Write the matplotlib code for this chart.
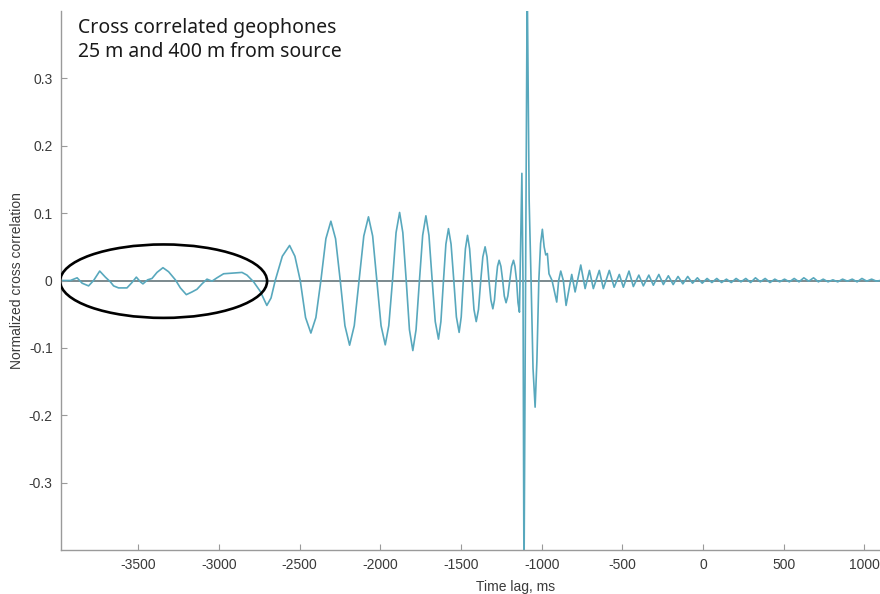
import matplotlib
matplotlib.use("Agg")
import matplotlib.pyplot as plt
from matplotlib.patches import Ellipse

# ---- data ----
# time lag (ms) and normalized cross correlation
noise_t = [-3984, -3922, -3880, -3849, -3809, -3778, -3740, -3705, -3674, -3654,
           -3623, -3571, -3540, -3513, -3488, -3472, -3443, -3416, -3385, -3348,
           -3313, -3271, -3240, -3203, -3168, -3137, -3106, -3075, -3044, -3013,
           -2972, -2910, -2858, -2827, -2786, -2745]
noise_v = [0.000, 0.000, 0.004, -0.004, -0.008, 0.000, 0.014, 0.005, -0.002, -0.008,
           -0.011, -0.011, -0.003, 0.005, -0.002, -0.005, 0.001, 0.003, 0.012, 0.019,
           0.013, 0.001, -0.011, -0.021, -0.017, -0.013, -0.005, 0.002, -0.001, 0.004,
           0.010, 0.011, 0.012, 0.008, -0.002, -0.016]

packet_t = [-2704, -2678, -2652, -2608, -2563, -2530, -2497, -2464, -2431, -2400,
            -2369, -2338, -2307, -2278, -2249, -2220, -2191, -2162, -2132, -2103,
            -2074, -2048, -2022, -1996, -1970, -1948, -1925, -1903, -1881, -1861,
            -1840, -1820, -1799, -1779, -1758, -1738, -1718, -1699, -1679, -1660,
            -1640, -1625, -1609, -1594, -1578, -1562, -1545, -1529, -1512, -1499,
            -1486, -1473, -1460, -1447, -1433, -1420, -1406, -1392, -1378, -1365,
            -1351, -1339, -1327, -1315, -1303, -1293, -1283, -1274, -1264, -1253,
            -1242, -1232, -1221, -1210, -1198, -1187, -1175, -1166, -1156, -1147,
            -1138]
packet_v = [-0.037, -0.026, 0.000, 0.036, 0.052, 0.036, 0.000, -0.055, -0.078, -0.055,
            0.000, 0.062, 0.088, 0.062, 0.000, -0.067, -0.096, -0.067, 0.000, 0.066,
            0.0945, 0.066, 0.000, -0.067, -0.0955, -0.067, 0.000, 0.071, 0.101, 0.071,
            0.000, -0.073, -0.104, -0.073, 0.000, 0.067, 0.096, 0.067, 0.000, -0.061,
            -0.087, -0.061, 0.000, 0.054, 0.077, 0.054, 0.000, -0.054, -0.077, -0.054,
            0.000, 0.047, 0.067, 0.047, 0.000, -0.043, -0.061, -0.043, 0.000, 0.035,
            0.050, 0.035, 0.000, -0.029, -0.042, -0.029, 0.000, 0.021, 0.030, 0.021,
            0.000, -0.023, -0.033, -0.023, 0.000, 0.021, 0.030, 0.021, 0.000, -0.033,
            -0.047]

spike_t = [-1123, -1116, -1110, -1100, -1090, -1078, -1066, -1054, -1041, -1030,
           -1018, -1007, -996, -985, -975, -965, -955, -936, -907, -895,
           -882, -866, -849]
spike_v = [0.159, 0.000, -0.45, 0.000, 0.45, 0.120, 0.000, -0.130, -0.188, -0.120,
           0.000, 0.055, 0.076, 0.050, 0.038, 0.040, 0.010, 0.000, -0.032, 0.000,
           0.014, 0.000, -0.037]

tail_t = [-814, -793, -758, -731, -704, -680, -643, -618, -581, -551,
          -519, -494, -459, -432, -398, -370, -336, -308, -274, -246,
          -215, -185, -155, -125, -95, -65, -35, -5, 25, 55,
          85, 115, 145, 175, 205, 235, 265, 295, 325, 355,
          385, 415, 445, 475, 505, 535, 565, 595, 625, 655,
          685, 715, 745, 775, 805, 835, 865, 895, 925, 955,
          985, 1015, 1045, 1075, 1097]
tail_v = [0.009, -0.017, 0.023, -0.012, 0.015, -0.012, 0.015, -0.012, 0.015, -0.010,
          0.009, -0.010, 0.014, -0.009, 0.008, -0.008, 0.008, -0.007, 0.009, -0.006,
          0.007, -0.006, 0.006, -0.005, 0.006, -0.004, 0.004, -0.004, 0.003, -0.003,
          0.003, -0.003, 0.002, -0.003, 0.003, -0.002, 0.003, -0.003, 0.004, -0.002,
          0.003, -0.003, 0.002, -0.002, 0.002, -0.002, 0.003, -0.002, 0.004, -0.001,
          0.004, -0.002, 0.002, -0.002, 0.001, -0.002, 0.002, -0.001, 0.002, -0.002,
          0.003, -0.001, 0.002, -0.001, 0.000]

x_ticks = [-3500, -3000, -2500, -2000, -1500, -1000, -500, 0, 500, 1000]
y_ticks = [-0.3, -0.2, -0.1, 0.0, 0.1, 0.2, 0.3]
y_ticklabels = ["-0.3", "-0.2", "-0.1", "0", "0.1", "0.2", "0.3"]

title_text = "Cross correlated geophones\n25 m and 400 m from source"
x_label = "Time lag, ms"
y_label = "Normalized cross correlation"

t_all = noise_t + packet_t + spike_t + tail_t
v_all = noise_v + packet_v + spike_v + tail_v

# ---- figure ----
W, H = 880, 594
fig = plt.figure(figsize=(W / 100, H / 100), dpi=100)
ax_left, ax_right, ax_top, ax_bottom = 61, 880, 11, 550
ax = fig.add_axes([ax_left / W, 1 - ax_bottom / H, (ax_right - ax_left) / W,
                   (ax_bottom - ax_top) / H])

font = "Liberation Sans"
tick_col = "#3a3a3a"
spine_col = "#9a9a9a"

ax.axhline(0, color="#65767a", lw=1.2, zorder=1)
ax.plot(t_all, v_all, color="#58a8bd", lw=1.2, zorder=2, solid_joinstyle="round")

ell = Ellipse((-3344, -0.001), 1283, 0.109, fill=False, edgecolor="black",
              lw=1.9, zorder=3)
ax.add_patch(ell)

ax.set_xlim(-3980, 1097)
ax.set_ylim(-0.4, 0.4)
ax.set_xticks(x_ticks)
ax.set_xticklabels([str(v) for v in x_ticks])
ax.set_yticks(y_ticks)
ax.set_yticklabels(y_ticklabels)

for s in ["top", "right"]:
    ax.spines[s].set_visible(False)
for s in ["left", "bottom"]:
    ax.spines[s].set_color(spine_col)
    ax.spines[s].set_linewidth(1.0)

ax.tick_params(direction="in", length=4, width=0.8, color=spine_col,
               labelcolor=tick_col, labelsize=10, pad=6)
for lab in ax.get_xticklabels() + ax.get_yticklabels():
    lab.set_family(font)

ax.set_xlabel(x_label, fontsize=10, family=font, color=tick_col)
ax.xaxis.set_label_coords((516 - ax_left) / (ax_right - ax_left), -0.055)
ax.set_ylabel(y_label, fontsize=10, family=font, color=tick_col)
ax.yaxis.set_label_coords(-0.045, 0.5)

ax.text((78 - ax_left) / (ax_right - ax_left), (ax_bottom - 18) / (ax_bottom - ax_top),
        title_text, transform=ax.transAxes, ha="left", va="top",
        fontsize=14, family="Noto Sans", color="#1a1a1a", linespacing=1.25)

fig.savefig("out.png", dpi=100)
